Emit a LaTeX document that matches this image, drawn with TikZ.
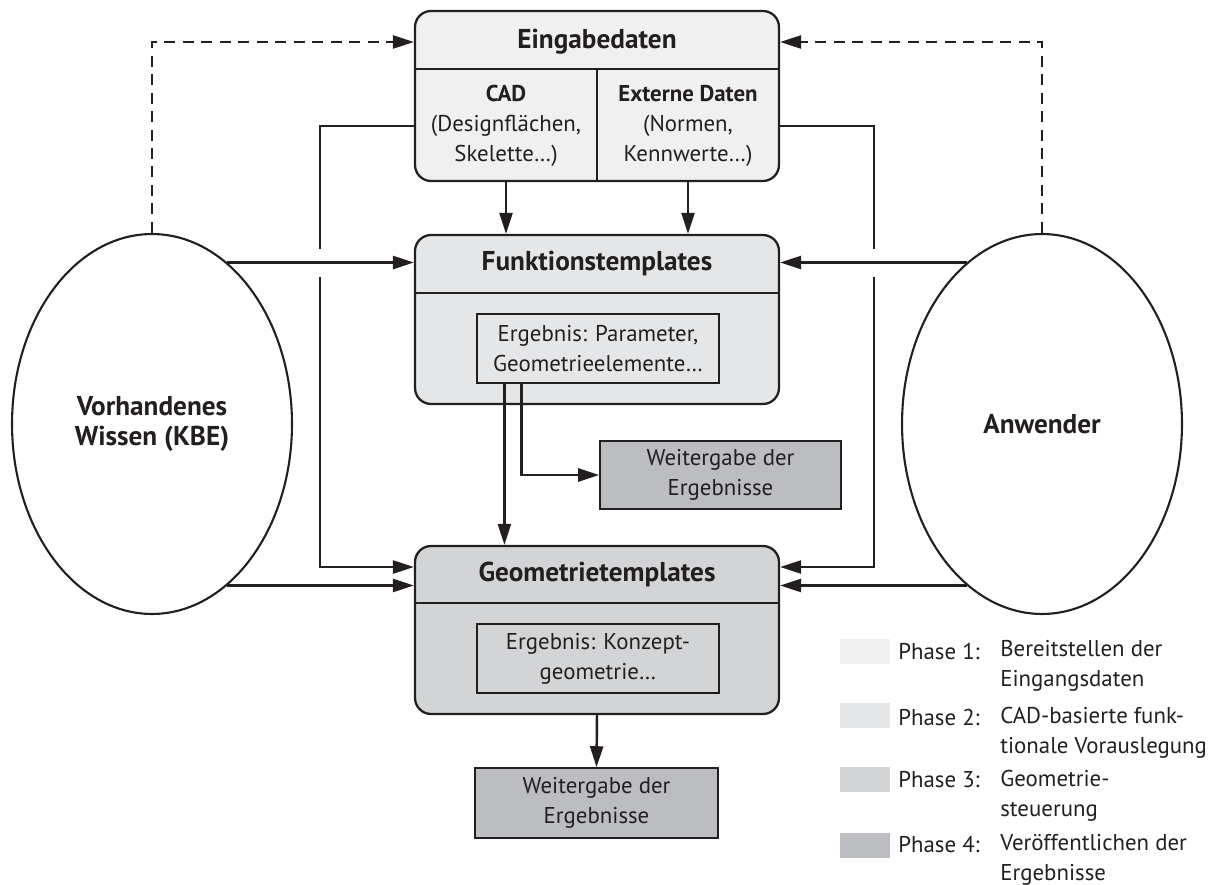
\documentclass[tikz,border=0pt]{standalone}
\usepackage{fontspec}
\setmainfont{PT Sans}
\usetikzlibrary{arrows.meta,shapes.geometric}
\definecolor{txt}{HTML}{231F20}
\definecolor{phaseone}{HTML}{F0F0F0}
\definecolor{phasetwo}{HTML}{E5E6E7}
\definecolor{phasethree}{HTML}{D3D4D6}
\definecolor{phasefour}{HTML}{BCBDC0}
\newcommand{\titlefont}{\fontsize{15.5}{17}\selectfont\bfseries}
\tikzstyle{phasebox}=[rectangle, rounded corners=0.32cm, draw=txt, line width=1.3pt, inner sep=0pt, minimum width=7.28cm]
\tikzstyle{resultbox}=[rectangle, draw=txt, line width=0.7pt, inner sep=0pt, minimum width=4.84cm, minimum height=1.38cm, align=center, text=txt]
\tikzstyle{outbox}=[rectangle, fill=phasefour, draw=txt, line width=0.9pt, inner sep=0pt, minimum width=4.84cm, minimum height=1.38cm, align=center, text=txt]
\tikzstyle{knowledge}=[ellipse, draw=txt, line width=1.2pt, minimum width=5.6cm, minimum height=7.6cm, inner sep=0pt, align=center, text=txt, font=\titlefont]
\tikzstyle{annot}=[align=center, text=txt]
\tikzstyle{title}=[annot, font=\titlefont]
\tikzstyle{divider}=[draw=txt, line width=0.8pt]
\tikzstyle{conn}=[draw=txt, line width=1.4pt]
\tikzstyle{arr}=[conn, -{Triangle[length=0.42cm,width=0.26cm]}]
\tikzstyle{dasharr}=[arr, dash pattern=on 0.22cm off 0.15cm]
\tikzstyle{swatch}=[rectangle, minimum width=1cm, minimum height=0.5cm, inner sep=0pt]
\tikzstyle{legend}=[anchor=west, align=left, inner sep=0pt, text=txt]

\begin{document}
\fontsize{13}{17}\selectfont
\begin{tikzpicture}[x=0.02cm, y=-0.02cm]
	\useasboundingbox (0,0) rectangle (1223,885);

	% phases
	\node[phasebox, fill=phaseone, minimum height=3.4cm](eingabe) at (597,96){};
	\node[phasebox, fill=phasetwo, minimum height=3.38cm](funktion) at (597,319.5){};
	\node[phasebox, fill=phasethree, minimum height=3.36cm](geometrie) at (597,630){};

	\draw[divider] (eingabe.west |- 0,69) -- (eingabe.east |- 0,69);
	\draw[divider] (eingabe.south) -- (eingabe.center |- 0,69);
	\draw[divider] (funktion.west |- 0,293) -- (funktion.east |- 0,293);
	\draw[divider] (geometrie.west |- 0,603) -- (geometrie.east |- 0,603);

	\node[title](etitle) at (597,42){Eingabedaten};
	\node[annot](cad) at (506,126){\textbf{CAD}\\(Designflächen,\\Skelette…)};
	\node[annot](ext) at (688,126){\textbf{Externe Daten}\\(Normen,\\Kennwerte…)};
	\node[title](ftitle) at (597,264){Funktionstemplates};
	\node[resultbox](ergebnis1) at (598,348.5){Ergebnis: Parameter,\\Geometrieelemente…};
	\node[title](gtitle) at (597,574){Geometrietemplates};
	\node[resultbox](ergebnis2) at (598,658.5){Ergebnis: Konzept-\\geometrie…};

	\node[outbox, minimum width=4.82cm, minimum height=1.36cm](weiter1) at (720.5,475){Weitergabe der\\Ergebnisse};
	\node[outbox, minimum width=4.86cm, minimum height=1.4cm](weiter2) at (596.5,803){Weitergabe der\\Ergebnisse};

	\node[knowledge](wissen) at (152,424){Vorhandenes\\Wissen (KBE)};
	\node[knowledge](anwender) at (1042,424){Anwender};

	% connectors
	\draw[dasharr] (wissen.north) |- (eingabe.west |- etitle);
	\draw[dasharr] (anwender.north) |- (eingabe.east |- etitle);

	\draw[arr] (cad |- eingabe.south) -- (cad |- funktion.north);
	\draw[arr] (ext |- eingabe.south) -- (ext |- funktion.north);

	\draw[arr] (wissen.65) -- (funktion.west |- wissen.65);
	\draw[arr] (wissen.-65) -- (geometrie.west |- wissen.-65);
	\draw[arr] (anwender.115) -- (funktion.east |- anwender.115);
	\draw[arr] (anwender.-115) -- (geometrie.east |- anwender.-115);

	\coordinate (hopL) at (wissen.65 -| 320,0);
	\coordinate (hopR) at (anwender.115 -| 874,0);
	\draw[conn] (eingabe.west |- cad) -| ([yshift=0.28cm]hopL);
	\draw[arr] ([yshift=-0.28cm]hopL) |- (geometrie.west |- 0,567);
	\draw[conn] (eingabe.east |- ext) -| ([yshift=0.28cm]hopR);
	\draw[arr] ([yshift=-0.28cm]hopR) |- (geometrie.east |- 0,567);

	\coordinate (split) at ([xshift=0.56cm]ergebnis1.south west);
	\draw[arr] (split) -- (split |- geometrie.north);
	\draw[arr] ([xshift=0.9cm]ergebnis1.south west) |- (weiter1.west);
	\draw[arr] (geometrie.south) -- (weiter2.north);

	% legend
	\node[swatch, fill=phaseone](sw1) at (865,651.5){};
	\node[swatch, fill=phasetwo](sw2) at (865,715.5){};
	\node[swatch, fill=phasethree](sw3) at (865,779){};
	\node[swatch, fill=phasefour](sw4) at (865,845){};
	\node[legend](ph1) at (898,651){Phase 1:};
	\node[legend](ph2) at (898,717){Phase 2:};
	\node[legend](ph3) at (898,780){Phase 3:};
	\node[legend](ph4) at (898,845){Phase 4:};
	\node[legend](de1) at (1000,666){Bereitstellen der\\Eingangsdaten};
	\node[legend](de2) at (1000,732.5){CAD-basierte funk-\\tionale Vorauslegung};
	\node[legend](de3) at (1000,796){Geometrie-\\steuerung};
	\node[legend](de4) at (1000,860){Veröffentlichen der\\Ergebnisse};
\end{tikzpicture}
\end{document}
